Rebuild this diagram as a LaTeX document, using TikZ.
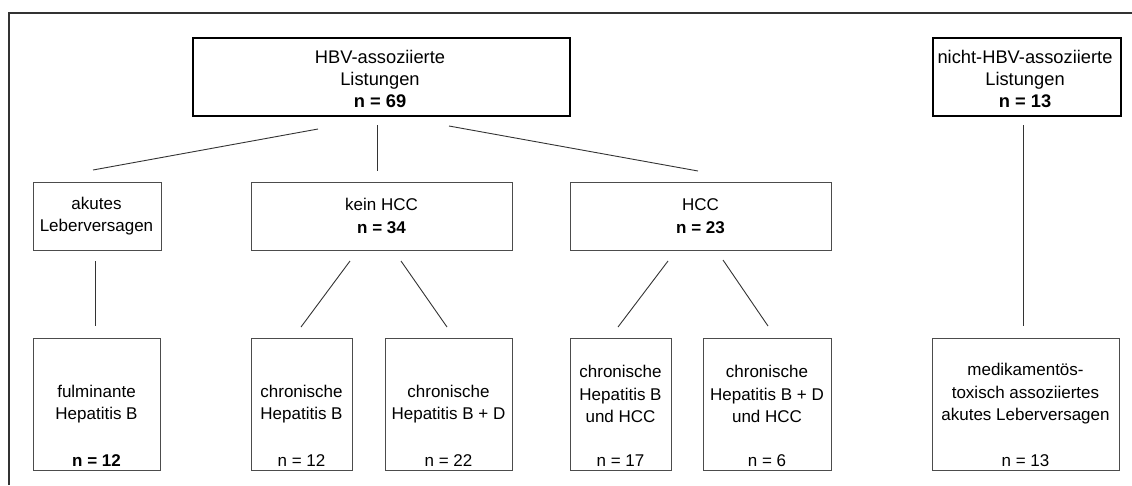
\documentclass[tikz,border=0pt]{standalone}
\usepackage{fontspec}
\setmainfont{Liberation Sans}
\begin{document}
\begin{tikzpicture}[x=1pt,y=-1pt,
  every node/.style={font=\fontsize{17}{22.5}\selectfont},
  bigtxt/.style={font=\fontsize{18.3}{22}\selectfont},
  thickbox/.style={draw=black, line width=2pt, inner sep=0pt, anchor=north west},
  thinbox/.style={draw=black!70, line width=1pt, inner sep=0pt, anchor=north west},
  txt/.style={align=center, inner sep=0pt, text=black},
  conn/.style={draw=black!80, line width=0.9pt}]
\useasboundingbox (0,0) rectangle (1132,485);
\draw[line width=2pt, black!80] (9,485) -- (9,13) -- (1132,13);

% boxes
\node[thickbox, minimum width=377pt, minimum height=78pt] (hbv) at (192,37) {};
\node[thickbox, minimum width=188pt, minimum height=78pt] (nhbv) at (931.5,37) {};
\node[thinbox, minimum width=127.5pt, minimum height=68pt] (ak) at (33,182) {};
\node[thinbox, minimum width=261pt, minimum height=68pt] (kein) at (251,182) {};
\node[thinbox, minimum width=261pt, minimum height=68pt] (hcc) at (570,182) {};
\node[thinbox, minimum width=127pt, minimum height=132pt] (ful) at (33,338) {};
\node[thinbox, minimum width=101pt, minimum height=132pt] (cb) at (251,338) {};
\node[thinbox, minimum width=127pt, minimum height=132pt] (cbd) at (385,338) {};
\node[thinbox, minimum width=101pt, minimum height=132pt] (cbh) at (570,338) {};
\node[thinbox, minimum width=128pt, minimum height=132pt] (cbdh) at (703,338) {};
\node[thinbox, minimum width=187pt, minimum height=132pt] (med) at (932,338) {};

% texts
\node[txt, bigtxt] (hbvT) at (380,79) {HBV-assoziierte\\Listungen\\\textbf{n = 69}};
\node[txt, bigtxt] (nhbvT) at (1025,79) {nicht-HBV-assoziierte\\Listungen\\\textbf{n = 13}};
\node[txt] (akT) at (96.5,216) {akutes\\Leberversagen};
\node[txt] (keinT) at (381.5,216) {kein HCC\\\textbf{n = 34}};
\node[txt] (hccT) at (700.5,216) {HCC\\\textbf{n = 23}};
\node[txt] (fulT) at (96.5,404) {fulminante\\Hepatitis B};
\node[txt] (fulN) at (96.5,461) {\textbf{n = 12}};
\node[txt] (cbT) at (301.5,404) {chronische\\Hepatitis B};
\node[txt] (cbN) at (301.5,461) {n = 12};
\node[txt] (cbdT) at (448.5,404) {chronische\\Hepatitis B + D};
\node[txt] (cbdN) at (448.5,461) {n = 22};
\node[txt] (cbhT) at (620.5,394) {chronische\\Hepatitis B\\und HCC};
\node[txt] (cbhN) at (620.5,461) {n = 17};
\node[txt] (cbdhT) at (767,394) {chronische\\Hepatitis B + D\\und HCC};
\node[txt] (cbdhN) at (767,461) {n = 6};
\node[txt] (medT) at (1025.5,394) {medikamentös-\\toxisch assoziiertes\\akutes Leberversagen};
\node[txt] (medN) at (1025.5,461) {n = 13};

% connector end points
\coordinate (a1) at (318,129); \coordinate (b1) at (93,170);
\coordinate (a2) at (377,125); \coordinate (b2) at (377,171);
\coordinate (a3) at (449,126); \coordinate (b3) at (698,171);
\coordinate (a4) at (95,261);  \coordinate (b4) at (95,326);
\coordinate (a5) at (350,261); \coordinate (b5) at (301,327);
\coordinate (a6) at (401,261); \coordinate (b6) at (447,327);
\coordinate (a7) at (668,261); \coordinate (b7) at (618,327);
\coordinate (a8) at (723,260); \coordinate (b8) at (768,326);
\coordinate (a9) at (1023,125); \coordinate (b9) at (1023,326);

\foreach \i in {1,...,9} { \draw[conn] (a\i) -- (b\i); }
\end{tikzpicture}
\end{document}
